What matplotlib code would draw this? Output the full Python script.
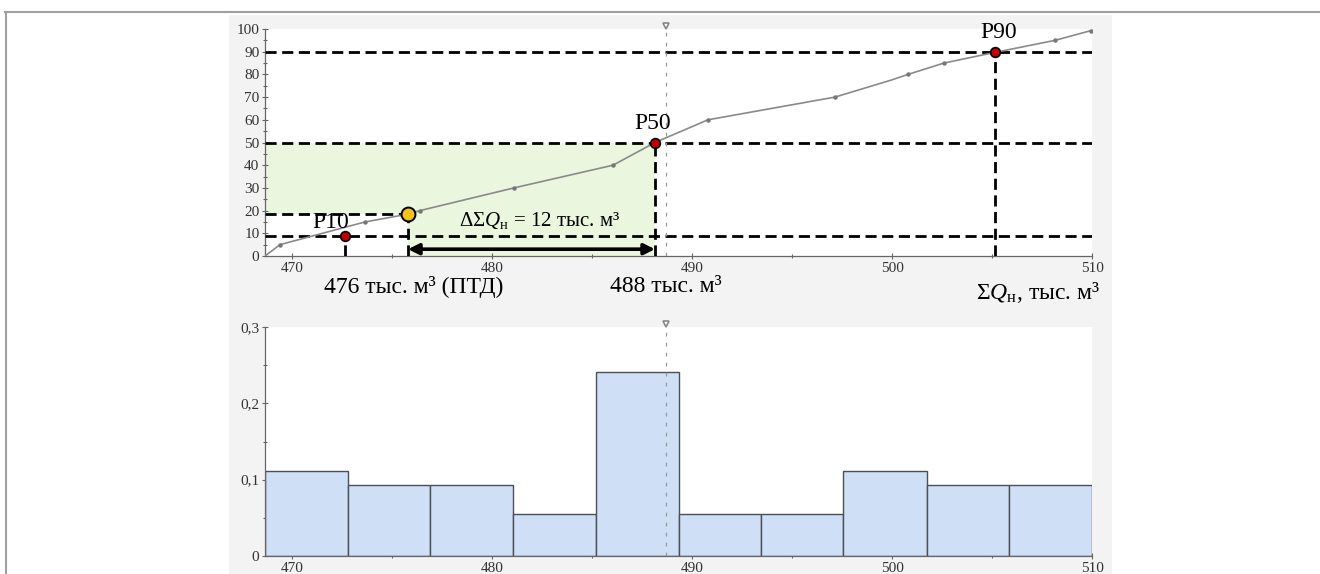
import matplotlib
matplotlib.use("Agg")
import matplotlib.pyplot as plt
from matplotlib.lines import Line2D
from matplotlib.patches import Rectangle
from matplotlib.ticker import MultipleLocator, FuncFormatter

plt.rcParams["font.family"] = ["Liberation Serif", "DejaVu Serif"]
plt.rcParams["mathtext.fontset"] = "custom"
plt.rcParams["mathtext.rm"] = "Liberation Serif"
plt.rcParams["mathtext.it"] = "Liberation Serif:italic"

# cumulative probability curve (ΣQн, %)
curve_q = [468.65, 469.4, 473.65, 475.77, 476.4, 481.1, 486.05, 488.15, 490.8,
           497.15, 500.0, 500.8, 502.6, 505.15, 508.15, 509.95]
curve_p = [0, 5, 15, 18.4, 20, 30, 40, 50, 60, 70, 77.6, 80, 85, 89.7, 95, 99.3]
dot_q = [469.4, 473.65, 476.4, 481.1, 486.05, 490.8, 497.15, 500.8, 502.6, 508.15, 509.95]
dot_p = [5, 15, 20, 30, 40, 60, 70, 80, 85, 95, 99.3]

# percentile points
pct_names = ["P10", "P50", "P90"]
pct_q = [472.65, 488.15, 505.15]
pct_p = [9, 50, 90]
ptd_q, ptd_p = 475.8, 18.5
mean_q = 488.7

# histogram (relative frequency)
hist_edges = [468.65, 472.8, 476.9, 481.05, 485.2, 489.35, 493.45, 497.55, 501.75, 505.85, 510]
hist_vals = [6 / 54, 5 / 54, 5 / 54, 3 / 54, 13 / 54, 3 / 54, 3 / 54, 6 / 54, 5 / 54, 5 / 54]

XMIN, XMAX = 468.65, 510

fig = plt.figure(figsize=(13.2, 5.74), dpi=100)
fig.patch.set_facecolor("white")

# grey panel behind both charts + thin frame lines
fig.add_artist(Rectangle((229 / 1320, 0), (1112 - 229) / 1320, 1 - 15 / 574,
                         transform=fig.transFigure, facecolor="#f3f3f3", edgecolor="none", zorder=0))
fig.add_artist(Line2D([5 / 1320, 1], [1 - 12 / 574] * 2, transform=fig.transFigure, color="#a0a0a0", lw=1.5))
fig.add_artist(Line2D([6 / 1320] * 2, [0, 1 - 12 / 574], transform=fig.transFigure, color="#a0a0a0", lw=1.5))

ax1 = fig.add_axes([265 / 1320, 1 - 256 / 574, (1092 - 265) / 1320, 227 / 574])
ax2 = fig.add_axes([265 / 1320, 1 - 556 / 574, (1092 - 265) / 1320, 229 / 574])


def style_axes(ax):
    ax.set_facecolor("white")
    for s in ("top", "right"):
        ax.spines[s].set_visible(False)
    for s in ("left", "bottom"):
        ax.spines[s].set_color("#666666")
        ax.spines[s].set_linewidth(0.9)
    ax.set_xlim(XMIN, XMAX)
    ax.xaxis.set_major_locator(MultipleLocator(10))
    ax.xaxis.set_minor_locator(MultipleLocator(5))
    ax.tick_params(which="both", direction="inout", colors="#666666", labelcolor="#333333",
                   labelsize=11, width=0.8)
    ax.tick_params(which="major", length=4, pad=2)
    ax.tick_params(which="minor", length=3)


# ---- top: cumulative curve ----
style_axes(ax1)
ax1.set_ylim(0, 100)
ax1.yaxis.set_major_locator(MultipleLocator(10))
ax1.yaxis.set_minor_locator(MultipleLocator(5))

green = "#eaf6dd"
ax1.fill_between([XMIN, pct_q[1]], ptd_p, pct_p[1], color=green, lw=0, zorder=1)
ax1.fill_between([ptd_q, pct_q[1]], 0, ptd_p, color=green, lw=0, zorder=1)

dash = (0, (4, 2))
for yv in [pct_p[0], ptd_p, pct_p[1], pct_p[2]]:
    xe = XMAX if yv != ptd_p else ptd_q
    ax1.plot([XMIN, xe], [yv, yv], color="black", lw=2, linestyle=dash, zorder=3)
for xv, yv in zip([pct_q[0], ptd_q, pct_q[1], pct_q[2]], [pct_p[0], ptd_p, pct_p[1], pct_p[2]]):
    ax1.plot([xv, xv], [0, yv], color="black", lw=2, linestyle=dash, zorder=3)

ax1.plot(curve_q, curve_p, color="#8a8a8a", lw=1.2, zorder=4)
ax1.plot(dot_q, dot_p, "o", color="#777777", ms=2.2, zorder=4)

ax1.plot(pct_q, pct_p, "o", color="#c00000", mec="black", mew=1.2, ms=7, zorder=6)
ax1.plot([ptd_q], [ptd_p], "o", color="#f5c21b", mec="black", mew=1.4, ms=10, zorder=6)

label_offsets = [(-10, 2), (-2, 6), (3, 6)]
for name, q, p, off in zip(pct_names, pct_q, pct_p, label_offsets):
    ax1.annotate(name, (q, p), xytext=off, textcoords="offset points",
                 ha="center", va="bottom", fontsize=17, zorder=7)

ax1.annotate("", xy=(ptd_q, 3), xytext=(pct_q[1], 3),
             arrowprops=dict(arrowstyle="<|-|>", color="black", lw=2.6, mutation_scale=16,
                             shrinkA=0, shrinkB=0), zorder=5)
ax1.text(482.4, 11, r"$\Delta\Sigma Q_{\mathrm{н}}$ = 12 тыс. м³",
         ha="center", va="bottom", fontsize=15, zorder=7)

ax1.annotate("476 тыс. м³ (ПТД)", (ptd_q, 0), xytext=(4, -22), textcoords="offset points",
             ha="center", va="center", fontsize=17, annotation_clip=False)
ax1.annotate("488 тыс. м³", (pct_q[1], 0), xytext=(8, -22), textcoords="offset points",
             ha="center", va="center", fontsize=17, annotation_clip=False)
ax1.annotate(r"$\Sigma Q_{\mathrm{н}}$, тыс. м³", (XMAX, 0), xytext=(6, -26),
             textcoords="offset points", ha="right", va="center", fontsize=17, annotation_clip=False)

# ---- bottom: histogram ----
style_axes(ax2)
ax2.set_ylim(0, 0.3)
ax2.yaxis.set_major_locator(MultipleLocator(0.1))
ax2.yaxis.set_minor_locator(MultipleLocator(0.05))
ax2.yaxis.set_major_formatter(FuncFormatter(lambda v, _: "0" if abs(v) < 1e-9 else f"{v:.1f}".replace(".", ",")))
widths = [b - a for a, b in zip(hist_edges[:-1], hist_edges[1:])]
ax2.bar(hist_edges[:-1], hist_vals, width=widths, align="edge", color="#cfdff5",
        edgecolor="#4a4f5a", linewidth=1.0, zorder=2)

# mean marker line through both charts
for ax in (ax1, ax2):
    ax.axvline(mean_q, color="#999999", lw=0.9, linestyle=(0, (3, 5)), zorder=3)
    ax.plot([mean_q], [1.015], marker="v", ms=5, mfc="white", mec="#888888", mew=1.2,
            clip_on=False, zorder=8, transform=ax.get_xaxis_transform())

fig.savefig("out.png", dpi=100)
